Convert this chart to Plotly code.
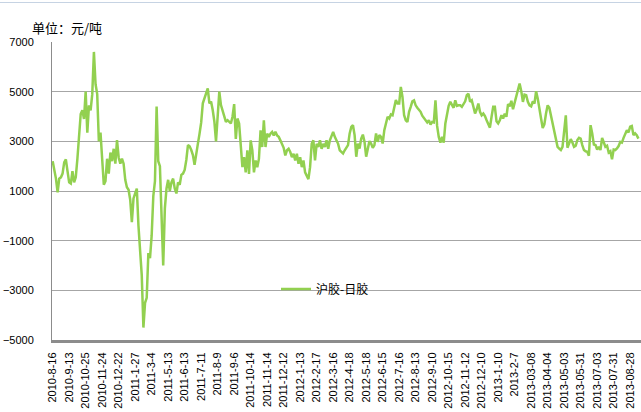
import plotly.graph_objects as go

# Spread (沪胶-日胶), 元/吨 (10 readings per tick interval)
spread = [
    2200, 1900, 1500, 950, 1500, 1550, 1700, 2150, 2270, 1800,
    1350, 1300, 1800, 1350, 1550, 2300, 3300, 4100, 4250, 3900,
    5000, 3350, 4450, 4250, 4900, 6600, 5300, 4900, 3000, 3350,
    2300, 1250, 1400, 2300, 1700, 2550, 2200, 2700, 2100, 3050,
    2350, 2100, 2300, 2100, 1450, 1150, 1050, 650, -250, 700,
    900, 1100, -400, -1600, -2400, -4500, -3500, -3300, -1500, -1700,
    -800, 800, 1400, 4400, 2200, 2000, -300, -2000, 300, 1100,
    1450, 1000, 1350, 1500, 1100, 900, 1350, 1250, 1650, 1700,
    1850, 2250, 2850, 2800, 2650, 2450, 2050, 2600, 2900, 3300,
    3750, 4530, 4730, 4930, 5130, 4530, 4600, 4260, 3800, 3000,
    4260, 5000, 4460, 4260, 4010, 3780, 3850, 3780, 3720, 3990,
    4500, 3100, 3920, 3720, 2640, 1960, 2360, 1750, 2640, 1690,
    3040, 2640, 1750, 2230, 1960, 2290, 3440, 2770, 3850, 2770,
    3310, 3180, 3310, 3380, 3240, 3380, 3240, 3180, 3040, 2900,
    2740, 2430, 2640, 2700, 2570, 2360, 2500, 2230, 2500, 2100,
    2360, 1960, 2230, 1750, 1620, 1480, 1960, 2900, 3040, 2230,
    2900, 2770, 3040, 2700, 2900, 2770, 3040, 2700, 3040, 3180,
    3380, 3180, 3040, 2900, 2640, 2550, 2510, 2640, 2780, 2850,
    3320, 3580, 3650, 3250, 2380, 2910, 2710, 3110, 3270, 2980,
    2380, 2780, 3010, 2910, 2740, 2850, 3320, 2980, 3250, 3180,
    2910, 3450, 3720, 3990, 3920, 4080, 4050, 4390, 4660, 4520,
    4520, 5190, 4790, 4050, 3850, 3780, 4190, 4390, 4610, 4650,
    4450, 4350, 4290, 4190, 4030, 3940, 3810, 3760, 3850, 3680,
    3780, 3760, 4650, 3620, 3180, 2950, 3180, 2950, 3720, 4160,
    4430, 4590, 4480, 4350, 4650, 4430, 4450, 4450, 4390, 4520,
    4610, 4860, 4920, 4590, 4650, 4390, 4120, 4290, 4520, 4190,
    4050, 4120, 4020, 3850, 3680, 3550, 3990, 4390, 4390, 3810,
    3720, 3850, 4050, 3920, 4120, 3990, 4500, 4410, 4630, 4290,
    4560, 4820, 5150, 5330, 5020, 4590, 4880, 4860, 4590, 4450,
    4410, 4610, 4520, 5020, 4720, 4250, 3920, 3540, 3680, 4120,
    4450, 4350, 4030, 3720, 3360, 3050, 2780, 2710, 2650, 2780,
    3600, 4050, 2740, 2910, 3090, 2950, 2780, 2820, 3050, 3140,
    3110, 2850, 2650, 2600, 2580, 2420, 3650, 3320, 2870, 2850,
    2670, 2780, 2650, 3140, 2950, 2780, 2820, 2550, 2600, 2280,
    2670, 2650, 2710, 2810, 2980, 2950, 3140, 3270, 3450, 3360,
    3590, 3620, 3250, 3320, 3250, 3110,
]

tick_labels = [
    "2010-8-16", "2010-9-13", "2010-10-25", "2010-11-24", "2010-12-22",
    "2011-1-27", "2011-3-4", "2011-5-13", "2011-6-13", "2011-7-11",
    "2011-8-9", "2011-9-6", "2011-10-14", "2011-11-14", "2011-12-12",
    "2012-1-13", "2012-2-17", "2012-3-16", "2012-4-18", "2012-5-18",
    "2012-6-15", "2012-7-16", "2012-8-13", "2012-9-10", "2012-10-15",
    "2012-11-12", "2012-12-10", "2013-1-10", "2013-2-7", "2013-03-08",
    "2013-04-04", "2013-05-03", "2013-05-31", "2013-07-03", "2013-07-31",
    "2013-08-28",
]

series_name = "沪胶-日胶"
unit_title = "单位：元/吨"

step = 10
x = list(range(len(spread)))
tickvals = [i * step for i in range(len(tick_labels))]

W, H = 641, 412
ml, mr, mt, mb = 52, 0, 42, 72
ph = H - mt - mb
pw = W - ml - mr

fig = go.Figure()
fig.add_trace(go.Scatter(
    x=x, y=spread, mode="lines", name=series_name,
    line=dict(color="#92D050", width=2.5),
))

fig.update_layout(
    width=W, height=H,
    margin=dict(l=ml, r=mr, t=mt, b=mb),
    paper_bgcolor="white", plot_bgcolor="white",
    showlegend=True,
    legend=dict(
        x=(276 - ml) / pw, y=(H - mb - 289) / ph,
        xanchor="left", yanchor="middle",
        bgcolor="rgba(0,0,0,0)",
        font=dict(family="Noto Sans CJK SC", size=12, color="#000"),
    ),
    title=dict(
        text=unit_title, x=32 / W, xanchor="left", xref="container",
        y=1 - 28.5 / H, yanchor="middle", yref="container",
        font=dict(family="Noto Sans CJK SC", size=13, color="#000"),
    ),
    xaxis=dict(
        range=[-0.4, -0.4 + pw / 1.65],
        tickmode="array", tickvals=tickvals, ticktext=tick_labels,
        tickangle=-90,
        tickfont=dict(family="Liberation Sans", size=11, color="#000"),
        showgrid=False, zeroline=False,
        showline=True, linecolor="#8c8c8c", linewidth=3,
        ticks="outside", ticklen=5, tickcolor="rgba(0,0,0,0)",
    ),
    yaxis=dict(
        range=[-5000, 7000], tick0=-5000, dtick=2000,
        tickfont=dict(family="Liberation Sans", size=11, color="#000"),
        showgrid=True, gridcolor="#a6a6a6", gridwidth=1,
        zeroline=False,
        showline=True, linecolor="#8c8c8c", linewidth=1,
        ticks="outside", ticklen=15, tickcolor="rgba(0,0,0,0)",
    ),
    shapes=[dict(
        type="line", xref="paper", yref="paper",
        x0=-ml / pw, x1=1, y0=1 + (mt - 2.5) / ph, y1=1 + (mt - 2.5) / ph,
        line=dict(color="#c6d3e3", width=1),
    )],
)

fig.write_html(
    "out.html",
    config={"displayModeBar": False},
    post_script="document.body.style.margin='0';document.body.style.overflow='hidden';",
)
